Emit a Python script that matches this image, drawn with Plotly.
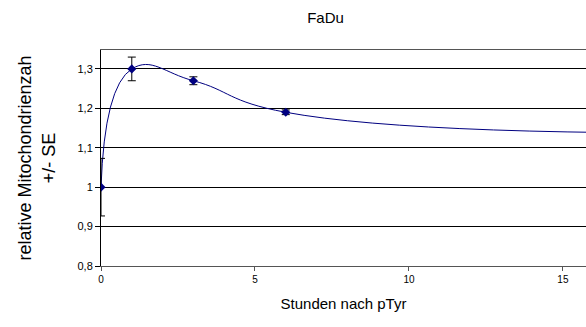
import plotly.graph_objs as go

# measured points (hours after pTyr, relative mitochondria count, SE)
stunden = [0, 1, 3, 6]
werte = [1.0, 1.30, 1.27, 1.19]
se = [0.073, 0.03, 0.01, 0.006]

# the smoothed line continues past the visible x range
linie_x = [0, 1, 3, 6, 24]
linie_y = [1.0, 1.30, 1.27, 1.19, 1.14]

y_ticks = [0.8, 0.9, 1.0, 1.1, 1.2, 1.3]
y_labels = ['0,8', '0,9', '1', '1,1', '1,2', '1,3']
x_ticks = [0, 5, 10, 15]

fig = go.Figure()

fig.add_trace(go.Scatter(
    x=linie_x, y=linie_y,
    mode='lines',
    line=dict(color='#000080', width=1, shape='spline', smoothing=1.3),
    hoverinfo='skip'))

fig.add_trace(go.Scatter(
    x=stunden, y=werte,
    mode='markers',
    marker=dict(symbol='diamond', size=7, color='#000080'),
    error_y=dict(type='data', array=se, visible=True,
                 color='black', thickness=1, width=4)))

fig.update_layout(
    width=586,
    height=327,
    paper_bgcolor='white',
    plot_bgcolor='white',
    showlegend=False,
    font=dict(family='Liberation Sans, Arial', color='black'),
    title=dict(text='FaDu', x=0.463, xanchor='center', y=0.945, yanchor='middle',
               xref='paper', font=dict(size=15)),
    margin=dict(l=101, r=0, t=50, b=61, autoexpand=False),
    xaxis=dict(
        range=[0, 15.75],
        tickvals=x_ticks,
        ticks='outside', ticklen=4, tickcolor='#555',
        tickfont=dict(size=10),
        showgrid=False, zeroline=False, automargin=False,
        showline=True, linecolor='#555', linewidth=1, mirror=True,
        title=dict(text='Stunden nach pTyr', font=dict(size=15), standoff=14)),
    yaxis=dict(
        range=[0.8, 1.348],
        tickvals=y_ticks, ticktext=y_labels,
        ticks='outside', ticklen=5, tickcolor='black',
        tickfont=dict(size=11),
        showgrid=True, gridcolor='black', gridwidth=1,
        zeroline=False, automargin=False,
        showline=True, linecolor='black', linewidth=1,
        title=dict(text='relative Mitochondrienzah<br>+/- SE', font=dict(size=18), standoff=17)),
)

# the page's default body margin would shift the figure by 8px
fig.write_html("out.html", config={'displayModeBar': False},
               post_script="document.body.style.margin='0';")
